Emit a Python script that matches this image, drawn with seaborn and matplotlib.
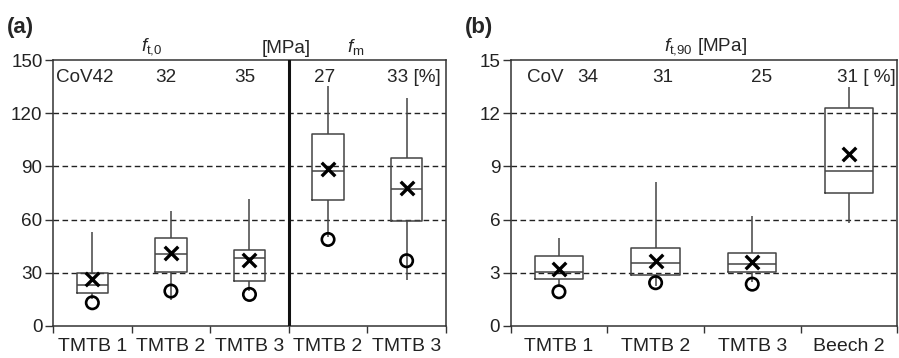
import numpy as np
import pandas as pd
import seaborn as sns
import matplotlib.pyplot as plt

# --- DATA ---
# panel (a): f_t,0 for TMTB 1-3, f_m for TMTB 2-3  [MPa]
a_keys = ["ft0_1", "ft0_2", "ft0_3", "fm_2", "fm_3"]
a_labels = ["TMTB 1", "TMTB 2", "TMTB 3", "TMTB 2", "TMTB 3"]
a_whislo = [15.0, 14.6, 20.0, 50.0, 25.9]
a_q1 = [18.7, 30.6, 25.3, 70.9, 59.3]
a_median = [22.9, 40.7, 38.3, 87.4, 77.1]
a_q3 = [30.0, 49.9, 42.6, 108.0, 94.7]
a_whishi = [52.9, 64.7, 71.8, 135.6, 128.5]
a_mean = [26.3, 41.3, 37.0, 88.3, 78.0]
a_circle = [13.1, 19.7, 17.8, 48.8, 36.8]
a_cov = ["CoV42", "32", "35", "27", "33 [%]"]

# panel (b): f_t,90  [MPa]
b_keys = ["TMTB 1", "TMTB 2", "TMTB 3", "Beech 2"]
b_labels = ["TMTB 1", "TMTB 2", "TMTB 3", "Beech 2"]
b_whislo = [2.2, 2.25, 2.5, 5.81]
b_q1 = [2.66, 2.87, 3.06, 7.5]
b_median = [3.06, 3.53, 3.47, 8.74]
b_q3 = [3.94, 4.41, 4.13, 12.3]
b_whishi = [4.97, 8.12, 6.19, 13.5]
b_mean = [3.2, 3.68, 3.62, 9.7]
b_circle = [1.93, 2.44, 2.36, None]
b_cov = ["34", "31", "25", "31 [ %]"]


def five_numbers(keys, lo, q1, med, q3, hi):
    # five points per group -> quartiles of these points are exactly q1/med/q3
    rows = []
    for i, k in enumerate(keys):
        for v in (lo[i], q1[i], med[i], q3[i], hi[i]):
            rows.append({"group": k, "value": v})
    return pd.DataFrame(rows)


sns.set_theme(style="ticks")
plt.rcParams["font.family"] = ["Liberation Sans", "DejaVu Sans"]
plt.rcParams["mathtext.fontset"] = "custom"
plt.rcParams["mathtext.rm"] = "Liberation Sans"
plt.rcParams["mathtext.it"] = "Liberation Sans:italic"

fig = plt.figure(figsize=(8.99, 3.58), dpi=100)
ax_a = fig.add_axes([0.059, 0.0894, 0.437, 0.743])
ax_b = fig.add_axes([0.568, 0.0894, 0.430, 0.743])

box_col = "#444444"
fs = 13.6


def draw_panel(ax, keys, labels, lo, q1, med, q3, hi, mean, circ, ymax, width):
    df = five_numbers(keys, lo, q1, med, q3, hi)
    sns.boxplot(data=df, x="group", y="value", order=keys, ax=ax,
                whis=np.inf, width=width, fill=False, color=box_col,
                linewidth=1.1, showcaps=False, zorder=3)
    pos = np.arange(len(keys))
    ax.scatter(pos, mean, marker="x", s=95, color="black", linewidths=2.4, zorder=5)
    cpos = [p for p, c in zip(pos, circ) if c is not None]
    cval = [c for c in circ if c is not None]
    ax.scatter(cpos, cval, marker="o", s=80, facecolors="none",
               edgecolors="black", linewidths=1.9, zorder=5)

    ax.set_xlim(-0.5, len(keys) - 0.5)
    ax.set_ylim(0, ymax)
    ax.set_yticks(np.linspace(0, ymax, 6))
    ax.set_xticks(pos)
    ax.set_xticklabels(labels)
    ax.set_xticks(np.arange(len(keys) + 1) - 0.5, minor=True)
    ax.tick_params(axis="x", which="major", length=0, pad=8.5, labelsize=14, colors="#222222")
    ax.tick_params(axis="x", which="minor", length=5, width=1, color="#333333")
    ax.tick_params(axis="y", length=6, width=1, labelsize=fs, pad=1.5, colors="#222222")
    ax.tick_params(axis="y", color="#333333")
    for y in np.linspace(0, ymax, 6)[1:-1]:
        ax.axhline(y, color="#222222", lw=1, ls=(0, (4, 2.5)), zorder=1)
    for s in ax.spines.values():
        s.set_visible(True)
        s.set_color("#333333")
        s.set_linewidth(1.1)
    ax.set_xlabel("")
    ax.set_ylabel("")


draw_panel(ax_a, a_keys, a_labels, a_whislo, a_q1, a_median, a_q3, a_whishi,
           a_mean, a_circle, 150, 0.4)
draw_panel(ax_b, b_keys, b_labels, b_whislo, b_q1, b_median, b_q3, b_whishi,
           b_mean, b_circle, 15, 0.5)

# separator between f_t,0 and f_m
ax_a.axvline(2.5, color="#111111", lw=2.2, zorder=4)

# CoV row, panel (a)
ax_a.text(-0.46, 140, a_cov[0], ha="left", va="center", fontsize=fs)
ax_a.text(0.93, 140, a_cov[1], ha="center", va="center", fontsize=fs)
ax_a.text(1.94, 140, a_cov[2], ha="center", va="center", fontsize=fs)
ax_a.text(2.96, 140, a_cov[3], ha="center", va="center", fontsize=fs)
ax_a.text(4.44, 140, a_cov[4], ha="right", va="center", fontsize=fs)

# headers panel (a)
ax_a.text(0.75, 151.5, r"$f_{\mathrm{t{,}0}}$", ha="center", va="bottom", fontsize=fs)
ax_a.text(2.47, 151.5, "[MPa]", ha="center", va="bottom", fontsize=fs)
ax_a.text(3.35, 151.5, r"$f_{\mathrm{m}}$", ha="center", va="bottom", fontsize=fs)

# CoV row, panel (b)
ax_b.text(-0.33, 14.0, "CoV", ha="left", va="center", fontsize=fs)
ax_b.text(0.30, 14.0, b_cov[0], ha="center", va="center", fontsize=fs)
ax_b.text(1.07, 14.0, b_cov[1], ha="center", va="center", fontsize=fs)
ax_b.text(2.10, 14.0, b_cov[2], ha="center", va="center", fontsize=fs)
ax_b.text(3.48, 14.0, b_cov[3], ha="right", va="center", fontsize=fs)

ax_b.text(1.52, 15.15, r"$f_{\mathrm{t{,}90}}$ [MPa]", ha="center", va="bottom", fontsize=fs)

fig.text(0.008, 0.895, "(a)", fontsize=16, fontweight="bold", ha="left", va="bottom")
fig.text(0.517, 0.895, "(b)", fontsize=16, fontweight="bold", ha="left", va="bottom")

plt.savefig("out.png", dpi=100)
